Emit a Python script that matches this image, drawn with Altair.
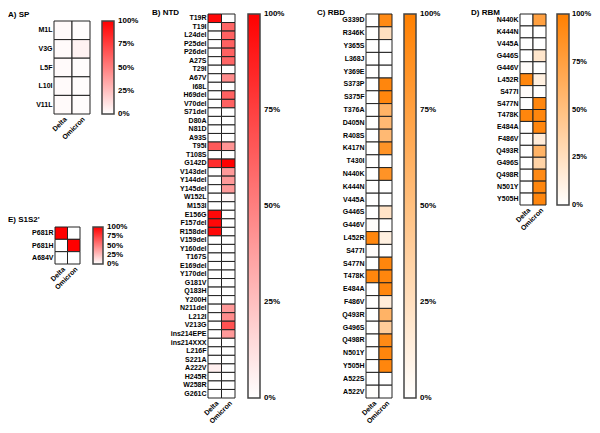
import altair as alt
import pandas as pd

W, H = 584, 417
FONT = "Liberation Sans"
variants = ["Delta", "Omicron"]

# ---- data ----
sp_muts = ["M1L", "V3G", "L5F", "L10I", "V11L"]
sp_delta = [0.02, 0.02, 0.02, 0.02, 0.02]
sp_omicron = [0.01, 0.05, 0.01, 0.01, 0.01]

s1s2_muts = ["P681R", "P681H", "A684V"]
s1s2_delta = [1.0, 0.0, 0.0]
s1s2_omicron = [0.0, 1.0, 0.0]

ntd_muts = ["T19R", "T19I", "L24del", "P25del", "P26del", "A27S", "T29I", "A67V", "I68L",
            "H69del", "V70del", "S71del", "D80A", "N81D", "A93S", "T95I", "T108S", "G142D",
            "V143del", "Y144del", "Y145del", "W152L", "M153I", "E156G", "F157del", "R158del",
            "V159del", "Y160del", "T167S", "E169del", "Y170del", "G181V", "Q183H", "Y200H",
            "N211del", "L212I", "V213G", "ins214EPE", "ins214XXX", "L216F", "S221A", "A222V",
            "H245R", "W258R", "G261C"]
ntd_delta = [0.97, 0, 0, 0, 0, 0, 0, 0, 0,
             0, 0, 0, 0, 0, 0, 0.65, 0, 0.82,
             0, 0, 0, 0, 0, 0.97, 0.97, 0.97,
             0, 0, 0, 0, 0, 0, 0, 0,
             0, 0, 0, 0, 0, 0, 0, 0.06,
             0, 0, 0]
ntd_omicron = [0, 0.6, 0.62, 0.62, 0.62, 0.6, 0, 0.45, 0,
               0.62, 0.62, 0, 0, 0, 0, 0.42, 0, 1.0,
               0.4, 0.4, 0.4, 0.03, 0, 0, 0, 0,
               0, 0, 0, 0, 0, 0, 0, 0,
               0.4, 0.45, 0.68, 0.4, 0, 0, 0, 0,
               0, 0, 0]

rbd_muts = ["G339D", "R346K", "Y365S", "L368J", "Y369E", "S373P", "S375F", "T376A", "D405N",
            "R408S", "K417N", "T430I", "N440K", "K444N", "V445A", "G446S", "G446V", "L452R",
            "S477I", "S477N", "T478K", "E484A", "F486V", "Q493R", "G496S", "Q498R", "N501Y",
            "Y505H", "A522S", "A522V"]
rbd_delta = [0, 0, 0, 0, 0, 0, 0, 0, 0,
             0, 0, 0, 0, 0, 0, 0, 0.02, 0.95,
             0.02, 0, 0.95, 0, 0, 0, 0, 0, 0,
             0, 0, 0.01]
rbd_omicron = [0.92, 0.25, 0, 0, 0, 0.95, 0.95, 0.6, 0.55,
               0.55, 0.85, 0, 0.85, 0, 0, 0.22, 0, 0.12,
               0, 0.95, 0.95, 0.95, 0.15, 0.6, 0.4, 0.92, 0.95,
               0.95, 0, 0]

rbm_muts = ["N440K", "K444N", "V445A", "G446S", "G446V", "L452R", "S477I", "S477N",
            "T478K", "E484A", "F486V", "Q493R", "G496S", "Q498R", "N501Y", "Y505H"]
rbm_delta = [0, 0, 0, 0, 0.02, 0.95, 0.02, 0, 0.95, 0, 0, 0, 0, 0, 0, 0]
rbm_omicron = [0.75, 0, 0, 0.2, 0, 0.12, 0, 0.95, 0.95, 0.95, 0.15, 0.6, 0.35, 0.92, 0.95, 0.95]

RED = "#ff0000"
ORANGE = "#ff8000"


def long_df(muts, d, o):
    rows = []
    for m, a, b in zip(muts, d, o):
        rows.append({"mut": m, "variant": "Delta", "v": a})
        rows.append({"mut": m, "variant": "Omicron", "v": b})
    return pd.DataFrame(rows)


def heat(muts, d, o, xr, yr, col, lx, ly, llen, thick, lsize=8, loff=4):
    df = long_df(muts, d, o)
    return alt.Chart(df).mark_rect(stroke="#222", strokeWidth=1).encode(
        x=alt.X("variant:N", sort=variants,
                scale=alt.Scale(range=xr, paddingInner=0, paddingOuter=0),
                axis=alt.Axis(title=None, orient="bottom", offset=yr[1] - H, labelAngle=-45,
                              labelFont=FONT, labelFontSize=7, labelFontWeight="bold",
                              labelColor="black", ticks=False, domain=False, labelPadding=1,
                              labelOverlap=False)),
        y=alt.Y("mut:N", sort=muts,
                scale=alt.Scale(range=yr, paddingInner=0, paddingOuter=0),
                axis=alt.Axis(title=None, orient="left", offset=-xr[0], ticks=False,
                              domain=False, labelPadding=2, labelFont=FONT, labelFontSize=7,
                              labelFontWeight="bold", labelColor="black", labelOverlap=False)),
        color=alt.Color("v:Q",
                        scale=alt.Scale(domain=[-0.001, 1.001], range=["#ffffff", col],
                                        interpolate="rgb"),
                        legend=alt.Legend(orient="none", legendX=lx, legendY=ly, title=None,
                                          direction="vertical", gradientLength=llen,
                                          gradientThickness=thick,
                                          values=[0, 0.25, 0.5, 0.75, 1], format=".0%",
                                          labelFont=FONT, labelFontSize=lsize,
                                          labelFontWeight="bold", labelColor="black",
                                          labelOffset=loff, labelOverlap=False,
                                          gradientStrokeColor="#444", gradientStrokeWidth=1.5,
                                          padding=0)),
    )


def title(text, x, y):
    return alt.Chart(alt.Data(values=[{}])).mark_text(
        text=text, align="left", baseline="middle", font=FONT, fontSize=8,
        fontWeight="bold", color="black"
    ).encode(x=alt.value(x), y=alt.value(y))


layers = [
    heat(sp_muts, sp_delta, sp_omicron, [46, 82], [13, 106], RED, 94, 13, 93, 12),
    heat(s1s2_muts, s1s2_delta, s1s2_omicron, [47, 72], [219, 256], RED, 85, 219, 37, 10),
    heat(ntd_muts, ntd_delta, ntd_omicron, [200, 227], [6, 390], RED, 240, 6, 384, 12),
    heat(rbd_muts, rbd_delta, rbd_omicron, [358, 384], [6, 390], ORANGE, 396, 6, 384, 12),
    heat(rbm_muts, rbm_delta, rbm_omicron, [512, 538], [6, 197], ORANGE, 549, 6, 191, 12,
         lsize=7.5, loff=3),
    title("A) SP", 0, 7),
    title("E) S1S2'", 0, 212),
    title("B) NTD", 144, 5),
    title("C) RBD", 309, 5),
    title("D) RBM", 463, 5),
]

chart = alt.layer(*layers).resolve_scale(
    x="independent", y="independent", color="independent"
).resolve_axis(x="independent", y="independent").properties(
    width=W, height=H, autosize=alt.AutoSizeParams(type="none"), padding=0
).configure_view(stroke=None)

chart.save("out.html", embed_options={"renderer": "svg", "actions": False})
